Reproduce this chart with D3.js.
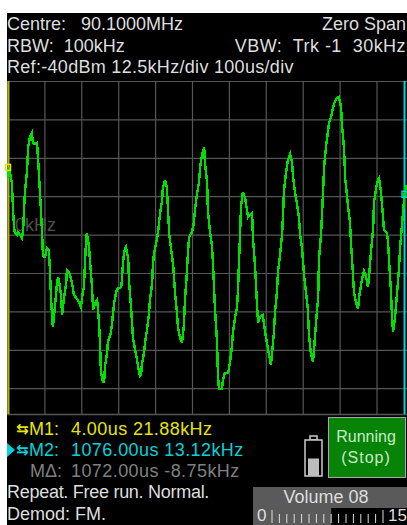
<!DOCTYPE html>
<html>
<head>
<meta charset="utf-8">
<script src="https://cdn.jsdelivr.net/npm/d3@7/dist/d3.min.js"></script>
<style>
html, body {margin:0; padding:0; background:#fff; overflow:hidden;}
svg {display:block;}
text {font-family:"Liberation Sans", Arial, sans-serif; font-size:18px; fill:#dedede;}
</style>
</head>
<body>
<script>
// sweep time of each trace sample, us
var traceTime = [1,4,12,15,18,20,26,28,34,39,42,47,53,56,61,66,69,75,80,83,88,94,96,102,107,112,115,118,121,123,129,134,137,140,145,148,153,159,161,167,175,180,191,199,205,207,210,213,215,221,224,229,232,237,243,245,248,251,253,259,262,264,270,272,280,283,286,289,294,297,308,310,313,316,321,327,329,335,340,346,351,354,359,362,364,370,373,378,383,386,392,394,397,402,408,413,419,421,427,432,435,438,443,449,454,459,462,467,473,478,481,486,489,492,500,505,508,513,519,522,527,533,535,541,543,549,554,557,560,562,568,570,573,581,584,589,598,603,608,611,617,622,625,627,630,633,638,644,649,652,657,663,665,671,676,679,684,692,698,703,709,714,717,722,725,730,733,738,744,747,749,755,760,766,771,774,779,785,790,793,798,801,804,809,814,817,822,828,831,836,842,844,850,855,858,863,869,871,877,882,885,893,898,904,906,912,915,920,923,928,931,936,939,945,950,953,958,963,966,972,977,980,985,991,993,999,1004,1007,1012,1018,1020,1028,1031,1034,1039,1042,1045,1050,1056,1061,1064,1069,1076,1080];
// demodulated frequency of each sample, kHz
var traceFreq = [18.4,21.9,16.8,8,2.1,0.5,-0.1,0.8,-0.1,-1.1,0.8,13.5,21,28.5,31.8,33.1,29.8,29.5,29.8,24.3,13.9,-0.1,-7,-7.3,-4.4,-5,-11.5,-20.6,-27.1,-30.1,-22.9,-15.8,-13.8,-15.4,-19.7,-26.2,-20.6,-15.8,-11.5,-12.2,-15.8,-19.7,-21.3,-23.6,-18,-17.4,-9.2,-1.8,0.5,-4,-9.2,-17.1,-24.5,-22.3,-21.3,-23.9,-28.8,-35.9,-44.7,-48,-48,-43.1,-38.5,-34.9,-32,-29.4,-25.5,-22.3,-19,-17.7,-17.1,-14.8,-9.2,-5.7,-4,-7.6,-14.8,-23.9,-33.7,-37.6,-40.8,-43.1,-46,-45.7,-42.4,-38.5,-34.9,-31,-26.2,-21.3,-15.8,-9.9,-6,-3.4,0.8,6.4,11.3,15.2,17.8,15.2,8,0.5,-4.4,-9.9,-19,-25.2,-30.1,-33.3,-35.3,-29.4,-21.3,-12.5,-6,-0.8,0.8,3.8,8,12.9,17.1,22,25.9,28.5,23.3,17.1,8,0.5,-3.4,-9.9,-18,-23.6,-35.3,-44.7,-50.3,-50.3,-47.3,-45.1,-45.1,-41.5,-36.6,-31.7,-26.8,-23.6,-17.4,-9.9,-0.8,9.6,13.9,11.9,8,5.7,6.4,7,-0.8,-10.5,-22.3,-28.8,-26.8,-26.2,-31.7,-35.3,-39.2,-42.4,-38.5,-32,-25.2,-19,-12.2,-7.3,-0.1,7,13.9,20.4,24.3,26.2,23.6,18.7,13.9,9.6,5.4,-0.1,-4.4,-8.9,-13.8,-18.7,-24.5,-32.7,-38.5,-41.5,-36.9,-28.8,-20.3,-8.3,0.8,13.5,22,28.5,34,36.3,38.3,41.2,42.8,44.5,44.8,41.5,36.3,28.2,18.4,12.9,9,4.1,-2.8,-12.5,-19,-22.3,-24.2,-20.3,-16.4,-13.1,-11.8,-13.8,-17.1,-13.1,-5.7,2.1,10.3,15.2,17.8,18.4,13.9,5.4,1.5,0.5,-1.8,-8.3,-18,-26.8,-31.7,-27.1,-18.7,-10.9,-4,3.1,13.12,16.1];

var timeTicks = [0,100,200,300,400,500,600,700,800,900,1000];
var freqTicks = [50,37.5,25,12.5,0,-12.5,-25,-37.5,-50];
var markerTime = [4,1076];
var markerFreq = [21.88,13.12];
var volumeTicks = [0,1,2,3,4,5,6,7,8,9,10,11,12,13,14,15];
var volumeLevel = 8;
var batteryLevel = 0.5;

var headerLeft = ["Centre:   90.1000MHz","RBW:  100kHz","Ref:-40dBm 12.5kHz/div 100us/div"];
var headerRight = ["Zero Span","VBW:  Trk -1  30kHz"];
var markerRows = ["M1:","M2:","M\u0394:"];
var markerValues = ["4.00us 21.88kHz","1076.00us 13.12kHz","1072.00us -8.75kHz"];
var footerRows = ["Repeat. Free run. Normal.","Demod: FM."];

var WIDTH = 407;
var HEIGHT = 525;
var SCREEN_LEFT = 7;
var SCREEN_TOP = 13;
var PLOT_TOP = 81;
var PLOT_BOTTOM = 414;
var GRID = "#565656";
var YELLOW = "#e6e600";
var CYAN = "#00d4dc";

var translate = function (x,y) {
    return "translate("+x+","+y+")";
}

var xScale = d3.scaleLinear()
    .domain([0,1084])
    .range([7.5, 407.5]);

var yScale = d3.scaleLinear()
    .domain([50,-58.4])
    .range([PLOT_TOP, PLOT_BOTTOM]);

var volumeScale = d3.scaleLinear()
    .domain([0,15])
    .range([272, 383]);

var line = d3.line()
    .x(function (d,i) {return xScale(traceTime[i])})
    .y(function (d) {return yScale(d)});

var svg = d3.select('body').append('svg')
    .attr('width', WIDTH)
    .attr('height', HEIGHT);

svg.append('rect')
    .attr('x', SCREEN_LEFT)
    .attr('y', SCREEN_TOP)
    .attr('width', WIDTH-SCREEN_LEFT)
    .attr('height', HEIGHT-SCREEN_TOP)
    .attr('fill', '#000');

// header
svg.append('g').selectAll('text')
    .data(headerLeft)
    .enter().append('text')
    .attr('x', SCREEN_LEFT)
    .attr('y', function (d,i) {return 30+i*21.5})
    .style('white-space', 'pre')
    .style('letter-spacing', function (d,i) {return i==2 ? '0.3px' : '0'})
    .text(function (d) {return d});

svg.append('g').selectAll('text')
    .data(headerRight)
    .enter().append('text')
    .attr('x', 406)
    .attr('y', function (d,i) {return 30+i*21.5})
    .attr('text-anchor', 'end')
    .style('white-space', 'pre')
    .style('letter-spacing', function (d,i) {return i==1 ? '0.45px' : '0'})
    .text(function (d) {return d});

// grid
var xGrid = d3.axisBottom(xScale)
    .tickValues(timeTicks)
    .tickSize(PLOT_TOP-PLOT_BOTTOM)
    .tickFormat("");
var yGrid = d3.axisLeft(yScale)
    .tickValues(freqTicks)
    .tickSize(SCREEN_LEFT-WIDTH)
    .tickFormat("");

var xg = svg.append('g')
    .attr('transform', translate(0,PLOT_BOTTOM))
    .call(xGrid);
var yg = svg.append('g')
    .attr('transform', translate(SCREEN_LEFT,0))
    .call(yGrid);
xg.select('.domain').attr('stroke', GRID).attr('stroke-width', 1.5);
yg.select('.domain').remove();
svg.selectAll('.tick line')
    .attr('stroke', GRID)
    .attr('stroke-width', 1.2);

svg.append('text')
    .attr('x', 15)
    .attr('y', yScale(0)-4)
    .style('fill', '#505050')
    .text("0kHz");

// marker cursors
svg.append('line')
    .attr('x1', xScale(markerTime[0])-0.5).attr('x2', xScale(markerTime[0])-0.5)
    .attr('y1', PLOT_TOP).attr('y2', PLOT_BOTTOM)
    .attr('stroke', '#b4b400').attr('stroke-width', 2);
svg.append('line')
    .attr('x1', xScale(markerTime[1])).attr('x2', xScale(markerTime[1]))
    .attr('y1', PLOT_TOP).attr('y2', PLOT_BOTTOM)
    .attr('stroke', CYAN).attr('stroke-width', 2);

// trace
svg.append('path')
    .attr('d', line(traceFreq))
    .attr('fill', 'none')
    .attr('stroke', '#00e000')
    .attr('stroke-width', 2.4)
    .attr('shape-rendering', 'crispEdges');

svg.append('rect')
    .attr('x', xScale(markerTime[0])-3.5)
    .attr('y', yScale(markerFreq[0])-3)
    .attr('width', 5).attr('height', 6)
    .attr('fill', 'none').attr('stroke', YELLOW).attr('stroke-width', 1.5);
svg.append('rect')
    .attr('x', xScale(markerTime[1])-2.5)
    .attr('y', yScale(markerFreq[1])-3)
    .attr('width', 5).attr('height', 6)
    .attr('fill', 'none').attr('stroke', CYAN).attr('stroke-width', 1.5);

// marker readouts
var rowColors = [YELLOW, CYAN, "#808080"];
var rowY = [435,456,477];

svg.append('g').selectAll('text')
    .data(markerRows)
    .enter().append('text')
    .attr('x', function (d,i) {return i==2 ? 30 : 29})
    .attr('y', function (d,i) {return rowY[i]})
    .style('fill', function (d,i) {return rowColors[i]})
    .text(function (d) {return d});

svg.append('g').selectAll('text')
    .data(markerValues)
    .enter().append('text')
    .attr('x', 71)
    .attr('y', function (d,i) {return rowY[i]})
    .style('fill', function (d,i) {return rowColors[i]})
    .style('white-space', 'pre')
    .style('letter-spacing', '0.42px')
    .text(function (d) {return d});

svg.append('g').selectAll('text')
    .data(["\u21C6","\u21C6"])
    .enter().append('text')
    .attr('x', 16)
    .attr('y', function (d,i) {return rowY[i]-1})
    .style('font-family', '"DejaVu Sans"')
    .style('font-size', '15px')
    .style('font-weight', 'bold')
    .style('fill', function (d,i) {return rowColors[i]})
    .text(function (d) {return d});

svg.append('path')
    .attr('d', 'M7,443L15,450L7,457Z')
    .attr('fill', CYAN);

svg.append('g').selectAll('text')
    .data(footerRows)
    .enter().append('text')
    .attr('x', SCREEN_LEFT)
    .attr('y', function (d,i) {return 498+i*22})
    .style('white-space', 'pre')
    .style('letter-spacing', function (d,i) {return i==0 ? '-0.28px' : '0'})
    .text(function (d) {return d});

// battery
var batteryScale = d3.scaleLinear().domain([0,1]).range([476,441]);
svg.append('rect')
    .attr('x', 310).attr('y', 436).attr('width', 7).attr('height', 4)
    .attr('fill', 'none').attr('stroke', '#ccc').attr('stroke-width', 1.5);
svg.append('rect')
    .attr('x', 305).attr('y', 440).attr('width', 17).attr('height', 36)
    .attr('fill', '#000').attr('stroke', '#ccc').attr('stroke-width', 1.5);
svg.append('rect')
    .attr('x', 308).attr('y', batteryScale(batteryLevel))
    .attr('width', 11).attr('height', 476-batteryScale(batteryLevel))
    .attr('fill', '#bdbdbd');

// run button
svg.append('rect')
    .attr('x', 328.5).attr('y', 417.5).attr('width', 77).attr('height', 60)
    .attr('fill', '#078307').attr('stroke', '#a8a8a8');
svg.append('g').selectAll('text')
    .data(["Running","(Stop)"])
    .enter().append('text')
    .attr('x', 366)
    .attr('y', function (d,i) {return 442+i*21})
    .attr('text-anchor', 'middle')
    .style('font-size', '16px')
    .style('letter-spacing', function (d,i) {return i==1 ? '1px' : '0'})
    .style('fill', '#c8ecc8')
    .text(function (d) {return d});

// volume
svg.append('rect')
    .attr('x', 253).attr('y', 487).attr('width', 154).attr('height', 21)
    .attr('fill', '#5a5a5a');
svg.append('rect')
    .attr('x', 253).attr('y', 508)
    .attr('width', volumeScale(volumeLevel)-253).attr('height', 17)
    .attr('fill', '#5a5a5a');
svg.append('text')
    .attr('x', 326).attr('y', 503)
    .attr('text-anchor', 'middle')
    .text("Volume 08");
svg.append('g').selectAll('line')
    .data(volumeTicks)
    .enter().append('line')
    .attr('x1', function (d) {return volumeScale(d)})
    .attr('x2', function (d) {return volumeScale(d)})
    .attr('y1', function (d) {return d==0||d==15 ? 510 : 514})
    .attr('y2', 523)
    .attr('stroke', '#ddd');
svg.append('text').attr('x', 257).attr('y', 521).style('font-size', '17px').text("0");
svg.append('text').attr('x', 388).attr('y', 521).style('font-size', '17px').text("15");
</script>
</body>
</html>
